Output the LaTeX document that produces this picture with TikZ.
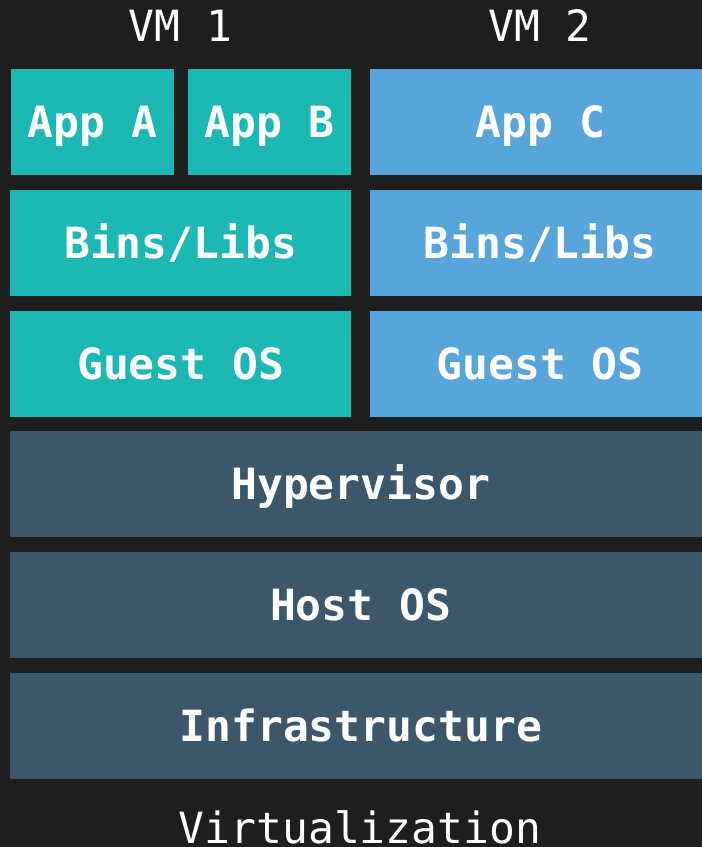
\documentclass[tikz,border=0pt]{standalone}
\usepackage{fontspec}
\setmonofont{DejaVu Sans Mono}
\definecolor{bgdark}{HTML}{1E1E1E}
\definecolor{vmteal}{HTML}{1CB9B4}
\definecolor{vmblue}{HTML}{58A5DC}
\definecolor{hostslate}{HTML}{3C5769}
\begin{document}
\begin{tikzpicture}[x=1pt,y=-1pt,
	every node/.style={inner sep=0pt, text=white},
	title/.style={anchor=base, font=\fontsize{43}{50}\selectfont\ttfamily},
	layer/.style={anchor=north west, minimum height=106pt, text height=31pt, text depth=0pt,
		font=\fontsize{43}{50}\selectfont\ttfamily\bfseries},
	vmone/.style={layer, fill=vmteal},
	vmtwo/.style={layer, fill=vmblue},
	hostlayer/.style={layer, fill=hostslate, minimum width=701pt}]
		% page and background
		\clip (0,0) rectangle (702,847);
		\fill [bgdark] (0,0) rectangle (702,847);
		% titles
		\node [title] (vm1) at (180.5,41) {VM 1};
		\node [title] (vm2) at (540,41) {VM 2};
		% VM 1
		\node [vmone, minimum width=163pt] (appA) at (11,69) {App A};
		\node [vmone, minimum width=163pt] (appB) at (188,69) {App B};
		\node [vmone, minimum width=341pt] (binsL) at (10,190) {Bins/Libs};
		\node [vmone, minimum width=341pt] (guestL) at (10,311) {Guest OS};
		% VM 2
		\node [vmtwo, minimum width=340pt] (appC) at (370,69) {App C};
		\node [vmtwo, minimum width=340pt] (binsR) at (370,190) {Bins/Libs};
		\node [vmtwo, minimum width=340pt] (guestR) at (370,311) {Guest OS};
		% shared layers
		\node [hostlayer] (hyper) at (10,431) {Hypervisor};
		\node [hostlayer] (host) at (10,552) {Host OS};
		\node [hostlayer] (infra) at (10,673) {Infrastructure};
		\node [title] (virt) at (360,843) {Virtualization};
\end{tikzpicture}
\end{document}
